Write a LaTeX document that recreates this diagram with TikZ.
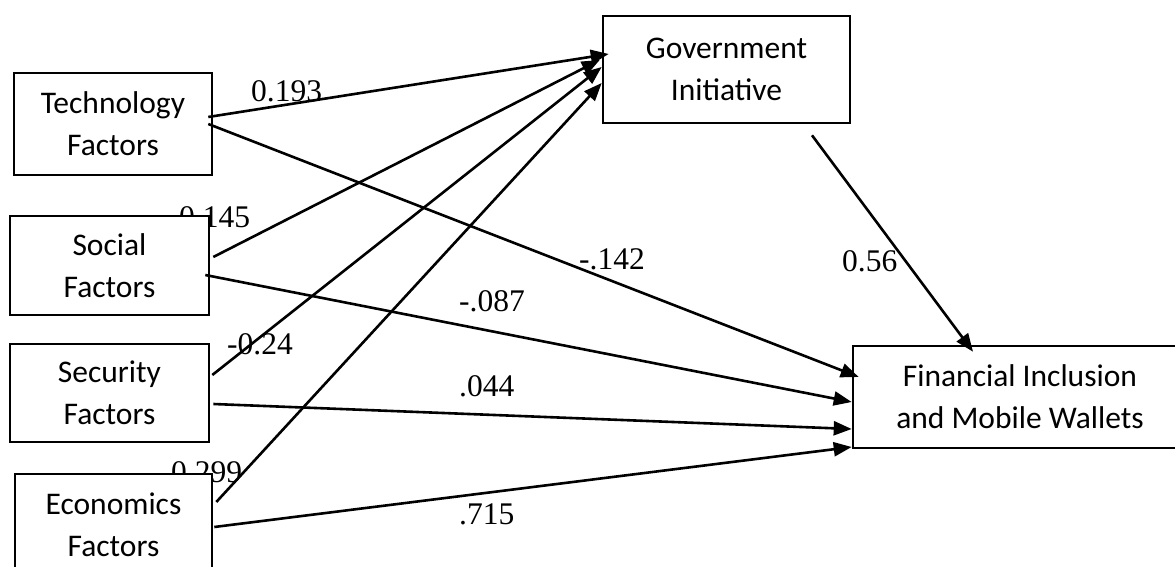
\documentclass[tikz,border=0pt]{standalone}
\usepackage{fontspec}
\setmainfont{Liberation Serif}
\newfontfamily\boxfont{Carlito}
\usepackage{tikz}
\usetikzlibrary{arrows.meta, positioning, calc}

\tikzset{
  factorbox/.style={draw, line width=2.6pt, fill=white, align=center, inner sep=0pt,
    font=\boxfont\fontsize{31.5}{42}\selectfont},
  coef/.style={anchor=base west, inner sep=0pt, font=\fontsize{31.5}{36}\selectfont},
  path/.style={line width=2.6pt, -{Triangle[length=18pt, width=14pt]}}
}

\begin{document}
\begin{tikzpicture}[x=1pt, y=1pt]
  \useasboundingbox (0, 0) rectangle (1175, 567);
  \clip (0, 0) rectangle (1175, 567);

  % Path coefficients (drawn first, the boxes cover parts of them)
  \node[coef] (c193) at (251, 465) {0.193};
  \node[coef] (c145) at (179, 339) {0.145};
  \node[coef] (c024) at (227, 212) {-0.24};
  \node[coef] (c299) at (171, 84) {0.299};
  \node[coef] (c142) at (579, 297) {-.142};
  \node[coef] (c087) at (459, 255) {-.087};
  \node[coef] (c044) at (459, 170) {.044};
  \node[coef] (c715) at (459, 42) {.715};
  \node[coef] (c056) at (842, 295) {0.56};

  % Factor boxes
  \node[factorbox, minimum width=198pt, minimum height=102pt] (tech) at (113, 443) {Technology\\Factors};
  \node[factorbox, minimum width=199pt, minimum height=99pt] (social) at (109.5, 301.5) {Social\\Factors};
  \node[factorbox, minimum width=199pt, minimum height=98pt] (security) at (109.5, 174) {Security\\Factors};
  \node[factorbox, minimum width=197pt, minimum height=102pt] (econ) at (113.5, 42) {Economics\\Factors};

  % Mediator and outcome
  \node[factorbox, minimum width=247pt, minimum height=107pt] (gov) at (726.5, 497.5) {Government\\Initiative};
  \node[factorbox, minimum width=334pt, minimum height=102pt] (fin) at (1020, 170) {Financial Inclusion\\and Mobile Wallets};

  % Paths to Government Initiative
  \draw[path] ($(tech.east)+(-5, 7)$) -- ($(gov.west)+(7, 15.5)$);
  \draw[path] ($(social.east)+(3, 8.5)$) -- ($(gov.west)+(-2, 9.5)$);
  \draw[path] ($(security.east)+(2, 18)$) -- ($(gov.west)+(0, 2.5)$);
  \draw[path] ($(econ.east)+(3, 23)$) -- ($(gov.west)+(0, -13.5)$);

  % Paths to Financial Inclusion
  \draw[path] ($(tech.east)+(-5, 0)$) -- ($(fin.west)+(7, 20)$);
  \draw[path] ($(social.east)+(-5, -9.5)$) -- ($(fin.west)+(0, -5)$);
  \draw[path] ($(security.east)+(3, -11)$) -- ($(fin.west)+(0, -32)$);
  \draw[path] ($(econ.east)+(1, -2)$) -- ($(fin.west)+(0, -50)$);
  \draw[path] ($(gov.south)+(85.5, -11)$) -- ($(fin.north)+(-47, -7)$);
\end{tikzpicture}
\end{document}
